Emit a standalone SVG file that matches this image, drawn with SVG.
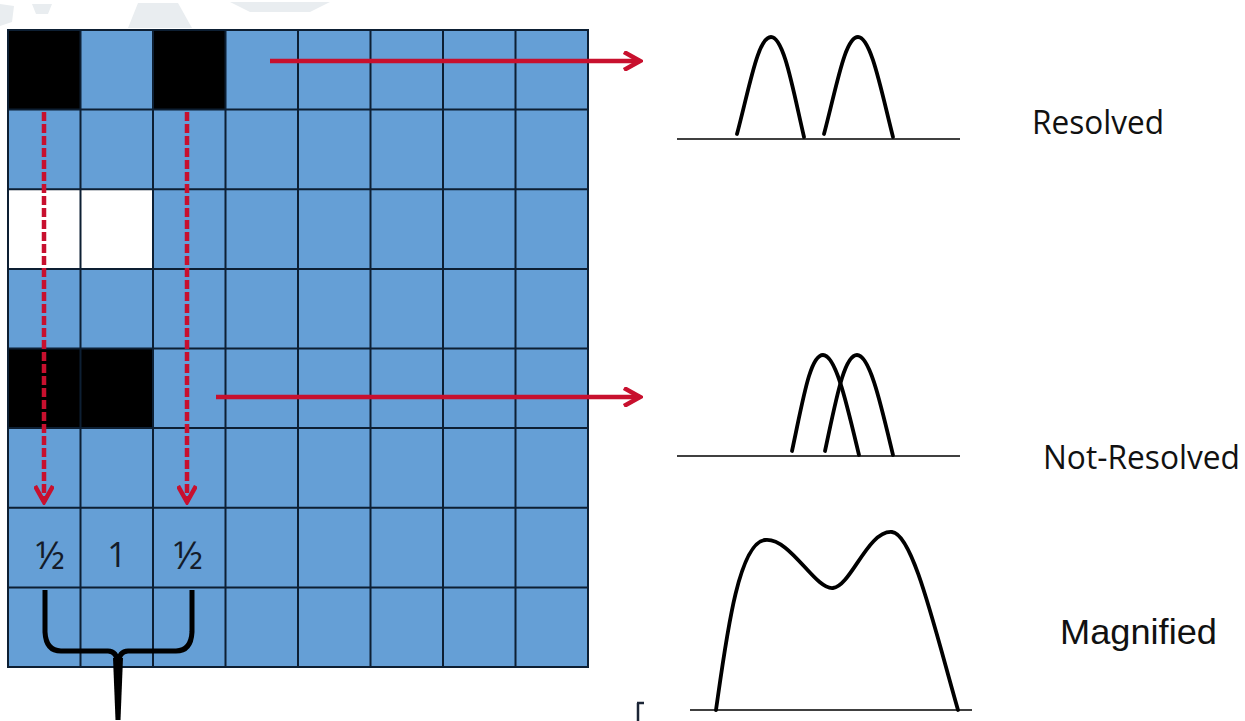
<svg xmlns="http://www.w3.org/2000/svg" width="1245" height="721" viewBox="0 0 1245 721">
<style>
.cell{fill:#659fd6}
.blk{fill:#000}
.wht{fill:#fff}
.grid{stroke:#0d1f33;stroke-width:2;fill:none}
.red{stroke:#c8102e;stroke-width:4.5;fill:none}
.dash{stroke-dasharray:9 3}
.curve{stroke:#000;stroke-width:3.8;fill:none;stroke-linecap:round}
.base{stroke:#000;stroke-width:1.5}
.num{font-family:"Open Sans","Noto Sans",sans-serif;font-size:34px;fill:#141c2a;text-anchor:middle}
.half{font-size:38px}
.lbl{font-family:"Open Sans","Noto Sans",sans-serif;font-size:32px;fill:#111}
.lbl2{font-family:"Liberation Sans",Arial,sans-serif;font-size:35px;fill:#111}
.wm{fill:#e9edf0}
</style>
<defs>
<marker id="chev" viewBox="0 0 20 20" refX="17" refY="10" markerWidth="20" markerHeight="20" markerUnits="userSpaceOnUse" orient="auto">
<path d="M1,1 L17,10 L1,19" fill="none" stroke="#c8102e" stroke-width="4.5"/>
</marker>
</defs>
<rect width="1245" height="721" fill="#fff"/>
<g id="watermark">
<path class="wm" d="M0,4 L14,6 L12,22 L0,26 Z"/>
<path class="wm" d="M32,4 L52,4 L48,14 L36,14 Z"/>
<path class="wm" d="M138,3 L178,3 L192,28 L128,28 Z"/>
<path class="wm" d="M230,2 L330,2 L310,12 L250,12 Z"/>
</g>
<g id="grid">
<rect class="cell" x="8" y="30" width="580" height="637"/>
<rect class="blk" x="8" y="30" width="73" height="80"/>
<rect class="blk" x="154" y="30" width="72" height="80"/>
<rect class="wht" x="8" y="189" width="146" height="80"/>
<rect class="blk" x="8" y="348.5" width="146" height="80"/>
<path class="grid" d="M8,30 H588 V667 H8 Z M80.5,30 V667 M153,30 V667 M225.5,30 V667 M298,30 V667 M370.5,30 V667 M443,30 V667 M515.5,30 V667 M8,109.6 H588 M8,189.2 H588 M8,268.9 H588 M8,348.5 H588 M8,428.1 H588 M8,507.7 H588 M8,587.4 H588"/>
</g>
<g id="values">
<text class="num half" x="50" y="569">½</text>
<text class="num" x="117" y="567">1</text>
<text class="num half" x="188" y="569">½</text>
</g>
<g id="connectors">
<line class="red" x1="270" y1="61" x2="640" y2="61" marker-end="url(#chev)"/>
<line class="red" x1="216" y1="397" x2="640" y2="397" marker-end="url(#chev)"/>
<line class="red dash" x1="44" y1="112" x2="44" y2="502" marker-end="url(#chev)"/>
<line class="red dash" x1="187" y1="112" x2="187" y2="502" marker-end="url(#chev)"/>
</g>
<g id="brace">
<path d="M45,590 V632 Q46,651 61,651 H108 Q117,651 118,664 M192,590 V632 Q191,651 176,651 H128 Q119,651 118,664" fill="none" stroke="#000" stroke-width="5"/>
<path d="M113,658 L123,658 L120.5,720 L115.5,720 Z" fill="#000"/>
</g>
<g id="resolved">
<line class="base" x1="677" y1="139" x2="960" y2="139"/>
<path class="curve" d="M737,134 C750,85 758,37 771,37 C784,37 793,90 804,137"/>
<path class="curve" d="M824,134 C837,85 845,37 858,37 C871,37 881,90 893,137"/>
<text class="lbl" x="1032" y="134" textLength="132" lengthAdjust="spacingAndGlyphs">Resolved</text>
</g>
<g id="not-resolved">
<line class="base" x1="677" y1="456" x2="960" y2="456"/>
<path class="curve" d="M792,451 C803,400 810,355 823,355 C836,355 847,405 859,455"/>
<path class="curve" d="M825,451 C836,400 844,355 857,355 C870,355 881,405 893,455"/>
<text class="lbl" x="1043" y="469" textLength="197" lengthAdjust="spacingAndGlyphs">Not-Resolved</text>
</g>
<g id="magnified">
<line class="base" x1="690" y1="710" x2="972" y2="710"/>
<path class="curve" d="M716,710 C726,640 738,543 765,540 C790,537 815,590 833,588 C851,586 868,530 892,532 C913,534 935,630 958,710"/>
<text class="lbl2" x="1060" y="644" textLength="157" lengthAdjust="spacingAndGlyphs">Magnified</text>
</g>
<path d="M637,703 H644 M638,703 V721" stroke="#1b2536" stroke-width="2.5" fill="none"/>
</svg>
